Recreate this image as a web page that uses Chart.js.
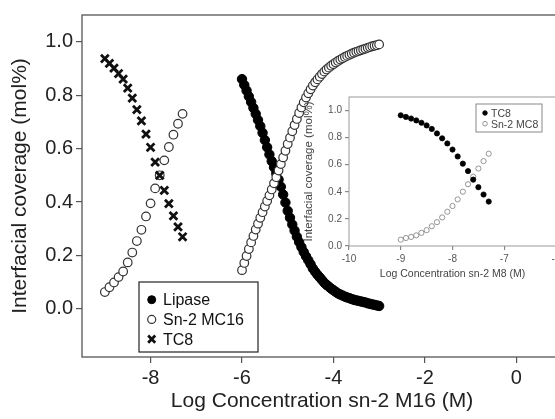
<!DOCTYPE html>
<html>
<head>
<meta charset="utf-8">
<script src="https://cdn.jsdelivr.net/npm/chart.js@4"></script>
<style>
  html, body { margin: 0; padding: 0; background: #fff; overflow: hidden; }
  body { width: 555px; height: 419px; position: relative; }
  #main { position: absolute; left: 0; top: 0; }
  #inset { position: absolute; left: 300px; top: 88px; }
</style>
</head>
<body>
<canvas id="main" width="600" height="419"></canvas>
<canvas id="inset" width="280" height="194"></canvas>
<script>
// ---- main chart data (log concentration vs interfacial coverage) ----
const xTicks = [-8, -6, -4, -2, 0];
const yTicks = [0, 0.2, 0.4, 0.6, 0.8, 1.0];

const concLow = [-9.0, -8.9, -8.8, -8.7, -8.6, -8.5, -8.4, -8.3, -8.2, -8.1, -8.0, -7.9, -7.8, -7.7, -7.6, -7.5, -7.4, -7.3];
const tc8Cov = [0.937, 0.919, 0.901, 0.881, 0.860, 0.826, 0.789, 0.746, 0.704, 0.654, 0.605, 0.549, 0.500, 0.444, 0.394, 0.348, 0.307, 0.270];
const mc16LowCov = [0.063, 0.081, 0.099, 0.119, 0.140, 0.174, 0.211, 0.254, 0.296, 0.346, 0.395, 0.451, 0.500, 0.556, 0.606, 0.652, 0.693, 0.730];

const concHigh = [-6.00, -5.95, -5.90, -5.85, -5.80, -5.75, -5.70, -5.65, -5.60, -5.55,
  -5.50, -5.45, -5.40, -5.35, -5.30, -5.25, -5.20, -5.15, -5.10, -5.05,
  -5.00, -4.95, -4.90, -4.85, -4.80, -4.75, -4.70, -4.65, -4.60, -4.55,
  -4.50, -4.45, -4.40, -4.35, -4.30, -4.25, -4.20, -4.15, -4.10, -4.05,
  -4.00, -3.95, -3.90, -3.85, -3.80, -3.75, -3.70, -3.65, -3.60, -3.55,
  -3.50, -3.45, -3.40, -3.35, -3.30, -3.25, -3.20, -3.15, -3.10, -3.05, -3.00];
const lipaseCov = [0.860, 0.838, 0.817, 0.795, 0.774, 0.752, 0.730, 0.707, 0.684, 0.659,
  0.632, 0.605, 0.578, 0.553, 0.530, 0.507, 0.484, 0.457, 0.428, 0.398,
  0.367, 0.341, 0.316, 0.293, 0.270, 0.250, 0.231, 0.213, 0.197, 0.182,
  0.167, 0.151, 0.139, 0.128, 0.118, 0.108, 0.098, 0.090, 0.083, 0.076,
  0.070, 0.064, 0.058, 0.054, 0.050, 0.046, 0.043, 0.040, 0.037, 0.034,
  0.032, 0.030, 0.028, 0.026, 0.024, 0.021, 0.019, 0.017, 0.015, 0.013, 0.011];
const mc16HighCov = [0.145, 0.172, 0.198, 0.224, 0.249, 0.273, 0.297, 0.319, 0.341, 0.362,
  0.383, 0.404, 0.425, 0.447, 0.470, 0.493, 0.518, 0.542, 0.567, 0.592,
  0.617, 0.641, 0.665, 0.688, 0.711, 0.733, 0.754, 0.773, 0.791, 0.807,
  0.822, 0.836, 0.848, 0.859, 0.869, 0.879, 0.888, 0.896, 0.903, 0.910,
  0.916, 0.922, 0.928, 0.933, 0.938, 0.943, 0.947, 0.951, 0.955, 0.959,
  0.962, 0.965, 0.968, 0.971, 0.974, 0.977, 0.980, 0.983, 0.985, 0.987, 0.990];

// ---- inset data ----
const insetXTicks = [-10, -9, -8, -7, -6];
const insetYTicks = [0, 0.2, 0.4, 0.6, 0.8, 1.0];
const insetConc = [-9.0, -8.9, -8.8, -8.7, -8.6, -8.5, -8.4, -8.3, -8.2, -8.1, -8.0, -7.9, -7.8, -7.7, -7.6, -7.5, -7.4, -7.3];
const insetTc8Cov = [0.965, 0.953, 0.941, 0.927, 0.910, 0.890, 0.864, 0.831, 0.795, 0.757, 0.712, 0.661, 0.608, 0.553, 0.490, 0.434, 0.380, 0.328];
const insetMc8Cov = [0.047, 0.059, 0.067, 0.079, 0.097, 0.117, 0.146, 0.176, 0.211, 0.253, 0.295, 0.344, 0.401, 0.456, 0.512, 0.572, 0.627, 0.681];

const FONT = '"Liberation Sans", Arial, Helvetica, sans-serif';

function pts(xs, ys) {
  return xs.map((x, i) => ({ x: x, y: ys[i] }));
}

// box around the plot area
const framePlugin = {
  id: 'frame',
  beforeDatasetsDraw(chart, args, o) {
    const a = chart.chartArea, ctx = chart.ctx;
    ctx.save();
    ctx.strokeStyle = o.color;
    ctx.lineWidth = o.width;
    ctx.strokeRect(a.left, a.top, a.right - a.left, a.bottom - a.top);
    ctx.restore();
  }
};

// legend drawn in a box inside the plot area
const boxLegend = {
  id: 'boxLegend',
  afterDraw(chart, args, o) {
    const a = chart.chartArea, ctx = chart.ctx;
    const x0 = a.left + o.dx, y0 = a.top + o.dy;
    ctx.save();
    ctx.fillStyle = '#fff';
    ctx.fillRect(x0, y0, o.w, o.h);
    ctx.strokeStyle = o.border;
    ctx.lineWidth = o.borderWidth;
    ctx.strokeRect(x0, y0, o.w, o.h);
    o.items.forEach((idx, i) => {
      const ds = chart.data.datasets[idx];
      const cy = y0 + o.padTop + i * o.rowH;
      ctx.fillStyle = ds.backgroundColor;
      ctx.strokeStyle = ds.borderColor;
      ctx.lineWidth = ds.borderWidth;
      Chart.helpers.drawPoint(ctx, {
        pointStyle: ds.pointStyle,
        radius: ds.pointStyle === 'crossRot' ? o.markR + 1 : o.markR,
        borderWidth: ds.borderWidth,
        rotation: 0
      }, x0 + o.markX, cy);
      ctx.fillStyle = o.color;
      ctx.font = o.font;
      ctx.textBaseline = 'middle';
      ctx.textAlign = 'left';
      ctx.fillText(ds.label, x0 + o.textX, cy + 1);
    });
    ctx.restore();
  }
};

function axisCommon(ticks, fmt, fontSize, color, tickLen, gridColor) {
  return {
    type: 'linear',
    afterBuildTicks: s => { s.ticks = ticks.map(v => ({ value: v })); },
    ticks: { callback: fmt, font: { family: FONT, size: fontSize }, color: color, padding: 3, maxRotation: 0, autoSkip: false },
    grid: { drawOnChartArea: false, drawTicks: true, tickLength: tickLen, color: gridColor, lineWidth: 1.2 },
    border: { display: false }
  };
}

// ---- main chart ----
const mainX = axisCommon(xTicks, v => String(v), 20, '#222', 6, '#555');
mainX.min = -9.5; mainX.max = 1;
mainX.title = { display: true, text: 'Log Concentration sn-2 M16 (M)', font: { family: FONT, size: 21 }, color: '#222', padding: { top: 2, bottom: 5 } };
mainX.afterFit = s => { s.height = 62; };

const mainY = axisCommon(yTicks, v => v.toFixed(1), 20, '#222', 6, '#555');
mainY.min = -0.18; mainY.max = 1.1;
mainY.title = { display: true, text: 'Interfacial coverage (mol%)', font: { family: FONT, size: 21 }, color: '#222', padding: { top: 8, bottom: 2 } };
mainY.afterFit = s => { s.width = 82; };

new Chart(document.getElementById('main'), {
  type: 'scatter',
  data: {
    datasets: [
      { label: 'TC8', data: pts(concLow, tc8Cov), pointStyle: 'crossRot', pointRadius: 5.5,
        borderWidth: 2.8, borderColor: '#111', backgroundColor: '#111' },
      { label: 'Sn-2 MC16', data: pts(concLow, mc16LowCov).concat(pts(concHigh, mc16HighCov)), pointStyle: 'circle',
        pointRadius: 4.3, borderWidth: 1.2, borderColor: '#333', backgroundColor: '#fff' },
      { label: 'Lipase', data: pts(concHigh, lipaseCov), pointStyle: 'circle', pointRadius: 4.7,
        borderWidth: 1, borderColor: '#000', backgroundColor: '#000' }
    ]
  },
  options: {
    responsive: false,
    animation: false,
    layout: { padding: { top: 12, right: 38, left: 0, bottom: 0 } },
    scales: { x: mainX, y: mainY },
    plugins: {
      legend: { display: false },
      tooltip: { enabled: false },
      frame: { color: '#555', width: 1.3 },
      boxLegend: { items: [2, 1, 0], dx: 57, dy: 267, w: 119, h: 70, padTop: 17.7, rowH: 19.7,
        markX: 12.7, textX: 24, markR: 4, font: '16px ' + FONT, color: '#111', border: '#222', borderWidth: 1.2 }
    }
  },
  plugins: [framePlugin, boxLegend]
});

// ---- inset chart ----
const insX = axisCommon(insetXTicks, v => String(v), 10, '#555', 4, '#888');
insX.min = -10; insX.max = -6;
insX.title = { display: true, text: 'Log Concentration sn-2 M8 (M)', font: { family: FONT, size: 10.5 }, color: '#444', padding: { top: 2, bottom: 2 } };
insX.afterFit = s => { s.height = 36; };

const insY = axisCommon(insetYTicks, v => v.toFixed(1), 10, '#555', 4, '#888');
insY.min = 0; insY.max = 1.1;
insY.title = { display: true, text: 'Interfacial coverage (mol%)', font: { family: FONT, size: 11.5 }, color: '#444', padding: { top: 2, bottom: 2 } };
insY.afterFit = s => { s.width = 49; };

new Chart(document.getElementById('inset'), {
  type: 'scatter',
  data: {
    datasets: [
      { label: 'TC8', data: pts(insetConc, insetTc8Cov), pointStyle: 'circle', pointRadius: 2.6,
        borderWidth: 0.8, borderColor: '#000', backgroundColor: '#000' },
      { label: 'Sn-2 MC8', data: pts(insetConc, insetMc8Cov), pointStyle: 'circle', pointRadius: 2.6,
        borderWidth: 0.9, borderColor: '#8a8a8a', backgroundColor: 'rgba(255,255,255,0)' }
    ]
  },
  options: {
    responsive: false,
    animation: false,
    layout: { padding: { top: 9, right: 24, left: 0, bottom: 0 } },
    scales: { x: insX, y: insY },
    plugins: {
      legend: { display: false },
      tooltip: { enabled: false },
      frame: { color: '#999', width: 1 },
      boxLegend: { items: [0, 1], dx: 127, dy: 7, w: 66, h: 28, padTop: 9, rowH: 10.7,
        markX: 9, textX: 15, markR: 2.3, font: '10.5px ' + FONT, color: '#444', border: '#888', borderWidth: 1 }
    }
  },
  plugins: [framePlugin, boxLegend]
});
</script>
</body>
</html>
